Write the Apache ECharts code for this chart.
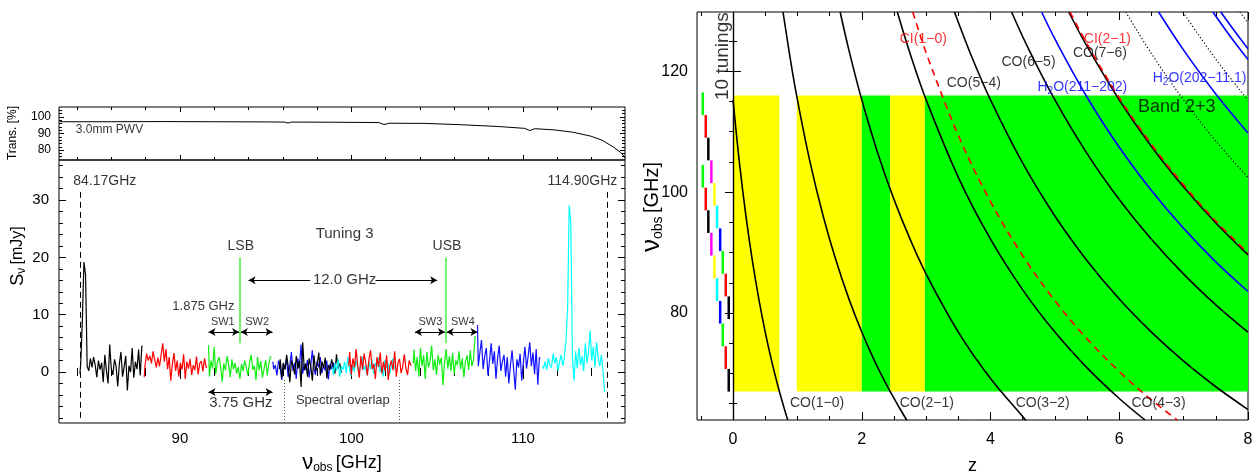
<!DOCTYPE html>
<html>
<head>
<meta charset="utf-8">
<title>Tuning 3 spectrum and Band 2+3 redshift coverage</title>
<script src="https://cdn.jsdelivr.net/npm/echarts@6/dist/echarts.min.js"></script>
<style>
  html, body { margin: 0; padding: 0; background: #fff; }
  #main { width: 1255px; height: 473px; }
</style>
</head>
<body>
<div id="main"></div>
<script>
// ---------------- data: left panel (spectrum) ----------------
const chanWidth = 0.09375; // GHz per channel (3.75 GHz / 40)
const segStart = [84.17, 87.92, 91.67, 95.42, 95.80, 98.90, 99.85, 103.60, 107.35, 111.15];
const segColour = ['k', 'r', 'g', 'b', 'k', 'c', 'r', 'g', 'b', 'c'];

const segA = [-0.3, 1.5, 9.0, 19.2, 17.0, 1.0, 0.2, 2.4, 0.8, 2.6, 1.2, -0.9, 2.0, 0.4, 1.6, -1.8, 3.0, 0.2, -2.0, 4.8,
  0.6, -0.5, 2.2, 1.0, -2.5, 1.4, 3.5, -0.8, 0.9, 2.8, -3.2, 1.1, 0.0, 4.2, -1.0, 1.8, 0.5, 3.9, -0.6, 4.5];
const segB = [-0.9, 1.2, 3.2, 2.0, 2.8, 1.5, 3.6, 2.2, 0.8, 2.5, 1.0, 3.0, 5.0, 1.8, 4.0, 0.5, 2.6, -1.5, 1.4, 3.3,
  0.2, 2.0, -0.8, 1.6, 0.4, 3.1, -1.2, 1.8, 0.6, 2.3, -0.5, 1.2, 0.3, 2.7, -0.4, 1.5, 1.9, 0.1, 2.4, 0.8];
const segC = [4.7, -0.8, 2.0, 0.6, 4.4, -0.4, 1.8, 2.6, 0.9, -1.7, 1.5, 0.3, 2.8, 1.2, -0.9, 2.2, 0.5, 1.6, -0.3, 0.9,
  -1.2, 1.4, 0.2, 2.0, 0.8, -0.6, 1.7, 3.0, 0.4, 1.1, -1.4, 2.6, 0.3, 1.9, -1.0, 0.5, 2.1, -0.6, 1.5, 2.7];
const segD = [1.8, 0.5, 1.2, -0.6, 2.0, 0.9, -1.4, 1.5, 0.6, 2.3, -0.8, 1.1, 3.5, 0.2, 1.6, -1.2, 2.4, 0.7, 4.8, -0.3,
  1.3, 0.4, 2.1, -1.0, 1.0, 3.8, 0.6, -0.5, 1.9, 0.8, 2.6, -0.2, 1.2, 0.3, 2.0, -1.3, 1.4, 0.5, 1.7, 0.2];
const segE = [0.5, 2.2, -1.0, 1.6, 0.4, 3.0, 0.9, -1.8, 2.0, 1.1, -0.4, 2.8, 0.6, 1.9, -2.6, 5.2, 0.3, 1.5, -0.8, 2.4,
  1.0, -1.5, 2.9, 0.2, 1.3, 3.4, -0.6, 1.8, 0.7, 2.5, -1.1, 1.2, 0.4, 2.2, 0.9, -0.3, 3.1, 0.6, 1.5, 0.0];
const segF = [0.8, -0.5, 1.5, 0.2, 2.3, -0.8, 1.0, 0.4, 1.8, -0.2, 2.6, 0.6, -0.7, 1.2, 0.1, 2.0, 0.9, -0.4, 1.4, 2.7,
  0.3, 1.1, -0.6, 1.9, 0.5, 2.2, -0.3, 1.6, 0.8, 2.5, 0.0, 1.3, -0.8, 2.1, 0.7, 1.5, -0.4, 1.0, 2.4, 0.6];
const segG = [1.0, 3.5, -0.5, 2.4, 0.8, 4.0, 1.2, -1.0, 2.8, 0.4, 3.2, 1.6, -0.6, 2.2, 3.8, 0.5, 1.4, -1.2, 2.6, 0.9,
  3.4, -0.3, 1.8, 0.2, 2.9, -1.4, 1.1, 2.0, 0.3, 3.6, -0.8, 1.5, 2.3, -0.2, 1.0, 3.1, 0.6, -0.5, 2.0, 1.2];
const segH = [1.5, 3.9, 0.2, 2.6, -0.8, 4.2, 1.0, 2.9, -1.2, 3.5, 0.8, 1.9, 4.6, 0.3, 2.2, -0.5, 3.0, 1.3, 2.5, -2.3,
  1.6, 4.0, 0.6, 2.8, 0.2, 3.3, -0.4, 2.0, 1.2, 3.6, 0.5, 2.4, -0.9, 1.8, 2.9, 0.4, 3.8, 1.0, 2.2, 6.2];
const segI = [8.2, 1.0, 3.4, 5.6, 0.5, 2.8, 4.2, -0.6, 2.0, 5.0, 1.4, 3.6, -1.2, 2.4, 4.6, 0.2, 1.8, 3.0, -0.8, 2.6,
  -2.0, 1.2, 3.8, 0.4, -3.1, 2.2, 0.8, 3.2, -1.5, 1.6, 4.4, 0.6, 2.8, 5.2, 1.0, 3.4, -0.4, 4.0, -2.2, 2.5];
const segJ = [1.0, 0.6, 1.8, 0.4, 2.4, 1.2, 0.8, 3.2, 1.5, 2.6, 0.2, 1.8, 3.0, 1.1, 2.5, 5.6, 11.0, 29.1, 26.0, 2.5,
  -1.5, 3.6, 0.6, 4.2, 1.2, 2.8, 0.2, 5.0, 1.6, 3.4, 7.3, 2.0, 4.4, 0.8, 5.2, 2.6, 1.0, 3.0, 0.4, -3.4];
const segValues = [segA, segB, segC, segD, segE, segF, segG, segH, segI, segJ];

// atmospheric transmission, 3.0mm PWV  [GHz, %]
const transPts = [[83, 97.1], [86, 97.1], [89, 97.2], [92, 97.1], [95, 97.0], [96.1, 96.9], [96.3, 96.3], [96.5, 96.9],
  [99, 96.8], [101.6, 96.6], [101.9, 95.4], [102.2, 96.2], [104.3, 96.1], [106.4, 95.3], [108.6, 94.2], [110.1, 93.1],
  [110.4, 91.8], [110.7, 92.9], [111.8, 92.2], [112.9, 90.8], [113.96, 88.4], [114.6, 86.0], [115.25, 82.0],
  [115.7, 78.5], [116, 75.0]];

// tick positions
const transXMajor = [90, 100, 110];
const transXMinor = [84, 86, 88, 92, 94, 96, 98, 102, 104, 106, 108, 112, 114, 116];
const transYMajor = [80, 90, 100];
const transYMinor = [76, 78, 82, 84, 86, 88, 92, 94, 96, 98, 102, 104];
const specYMajor = [0, 10, 20, 30];
const specYMinor = [-8, -6, -4, -2, 2, 4, 6, 8, 12, 14, 16, 18, 22, 24, 26, 28, 32, 34, 36];

// ---------------- data: right panel (redshift coverage) ----------------
const bandLow = 67, bandHigh = 116;
const bandZ = [[0, 0.72], [0.99, 2.0], [2.0, 2.44], [2.44, 2.98], [2.98, 8]];
const bandNLines = [1, 1, 2, 1, 2];

const tuningZ = [-0.47, -0.424, -0.384, -0.337, -0.29, -0.248, -0.20, -0.16, -0.113, -0.067];
const lsbTop = [104.5, 100.75, 97.0, 93.25, 89.5, 85.75, 82.0, 78.25, 74.5, 70.75];
const usbTop = [116.5, 112.75, 109.0, 105.25, 101.5, 97.75, 94.0, 90.25, 86.5, 82.75];
const swSpan = 3.75;

const co10 = [[0, 115.27], [0.1, 104.79], [0.2, 96.06], [0.3, 88.67], [0.4, 82.34], [0.5, 76.85], [0.6, 72.04], [0.7, 67.81], [0.8, 64.04], [0.85, 62.3]];
const co21 = [[0.776, 129.8], [0.9, 121.34], [1.0, 115.27], [1.2, 104.79], [1.4, 96.06], [1.6, 88.67], [1.8, 82.34], [2.0, 76.85], [2.2, 72.04], [2.4, 67.81], [2.6, 64.04], [2.7, 62.26]];
const co32 = [[1.664, 129.8], [1.8, 123.5], [2.0, 115.27], [2.25, 106.4], [2.5, 98.80], [2.75, 92.22], [3.0, 86.45], [3.5, 76.85], [4.0, 69.16], [4.5, 62.87], [4.55, 62.2]];
const co43 = [[2.552, 129.8], [2.75, 122.94], [3.0, 115.26], [3.5, 102.45], [4.0, 92.21], [4.5, 83.83], [5.0, 76.84], [5.5, 70.93], [6.0, 65.86], [6.4, 62.3]];
const co54 = [[3.44, 129.8], [3.7, 122.61], [4.0, 115.25], [4.5, 104.78], [5.0, 96.05], [5.5, 88.66], [6.0, 82.32], [6.5, 76.84], [7.0, 72.03], [7.5, 67.80], [8.0, 64.03]];
const co65 = [[4.327, 129.8], [4.6, 123.48], [5.0, 115.25], [5.5, 106.38], [6.0, 98.78], [6.5, 92.20], [7.0, 86.43], [7.5, 81.35], [8.0, 76.83]];
const co76 = [[5.215, 129.8], [5.5, 124.1], [6.0, 115.24], [6.5, 107.55], [7.0, 100.83], [7.5, 94.90], [8.0, 89.63]];
const ci10 = [[2.792, 129.8], [3.0, 123.04], [3.5, 109.37], [4.0, 98.43], [4.5, 89.48], [5.0, 82.03], [5.5, 75.72], [6.0, 70.31], [6.5, 65.62], [6.9, 62.3]];
const ci21 = [[5.235, 129.8], [5.5, 124.51], [6.0, 115.62], [6.5, 107.91], [7.0, 101.17], [7.5, 95.22], [8.0, 89.93]];
const h2o211 = [[4.794, 129.8], [5.0, 125.34], [5.5, 115.70], [6.0, 107.43], [6.5, 100.27], [7.0, 94.00], [7.5, 88.47], [8.0, 83.56]];
const h2o202 = [[6.611, 129.8], [7.0, 123.49], [7.5, 116.23], [8.0, 109.77]];
const h2o312 = [[7.454, 129.8], [7.7, 126.13], [8.0, 121.93]];
const h2o111 = [[7.577, 129.8], [7.8, 126.52], [8.0, 123.70]];
const co87 = [[6.102, 129.8], [6.5, 122.91], [7.0, 115.23], [7.5, 108.45], [8.0, 102.42]];
const co98 = [[6.988, 129.8], [7.5, 121.99], [8.0, 115.21]];
const co109 = [[7.875, 129.8], [8.0, 128.0]];

const zMajor = [0, 2, 4, 6, 8];
const zMinor = [-0.5, 0.5, 1, 1.5, 2.5, 3, 3.5, 4.5, 5, 5.5, 6.5, 7, 7.5];
const nuMajor = [80, 100, 120];
const nuMinor = [65, 70, 75, 85, 90, 95, 105, 110, 115, 125];

// ---------------- styling ----------------
const FONT = 'Liberation Sans, Arial, sans-serif';
const colourOf = { k: '#000000', r: '#ff0000', g: '#11ee11', b: '#1010ff', c: '#00ffff' };
const tuningColours = ['#00ff00', '#ff0000', '#000000', '#ff00ff', '#ffff00', '#00ffff', '#0000ff', '#00ff00', '#ff0000', '#000000'];

const specX = [82.95, 115.95];
const transY = [74, 106];
const specY = [-8.9, 37];
const zRange = [-0.56, 8];
const nuRange = [62.3, 129.8];

const grids = [
  { left: 59, width: 566, top: 107, height: 53 },   // 0 transmission
  { left: 59, width: 566, top: 160, height: 263 },  // 1 spectrum
  { left: 697, width: 551, top: 12, height: 408 }   // 2 redshift
];

// each panel gets a main grid (box, major ticks, labels) and an overlaid one for minor ticks
const gridOpt = [];
grids.forEach(g => {
  gridOpt.push(Object.assign({ show: true, borderColor: '#000', borderWidth: 1, backgroundColor: 'transparent', containLabel: false, outerBoundsMode: 'none' }, g));
  gridOpt.push(Object.assign({ show: false, containLabel: false, outerBoundsMode: 'none' }, g));
});

function tickAxis(grid, pos, range, ticks, len, label) {
  return {
    type: 'value', gridIndex: grid, position: pos, min: range[0], max: range[1],
    axisLine: { show: false }, splitLine: { show: false },
    axisTick: { show: true, inside: true, length: len, customValues: ticks, lineStyle: { color: '#000', width: 1 } },
    axisLabel: label || { show: false },
    silent: true
  };
}
function tickLabel(values, size, margin) {
  return { show: true, customValues: values, color: '#000', fontFamily: FONT, fontSize: size, margin: margin };
}

const xAxes = [
  tickAxis(0, 'bottom', specX, transXMajor, 5), tickAxis(0, 'top', specX, transXMajor, 5),
  tickAxis(1, 'bottom', specX, transXMinor, 3), tickAxis(1, 'top', specX, transXMinor, 3),
  tickAxis(2, 'bottom', specX, transXMajor, 7, tickLabel(transXMajor, 15, 8)), tickAxis(2, 'top', specX, transXMajor, 7),
  tickAxis(3, 'bottom', specX, transXMinor, 4), tickAxis(3, 'top', specX, transXMinor, 4),
  tickAxis(4, 'bottom', zRange, zMajor, 8, tickLabel(zMajor, 16, 12)), tickAxis(4, 'top', zRange, zMajor, 8),
  tickAxis(5, 'bottom', zRange, zMinor, 4), tickAxis(5, 'top', zRange, zMinor, 4)
];
xAxes[4].name = '{nu|ν}{sub|obs} {u|[GHz]}';
xAxes[4].nameLocation = 'middle';
xAxes[4].nameGap = 29;
xAxes[4].nameTextStyle = {
  fontFamily: FONT, color: '#000',
  rich: {
    nu: { fontFamily: FONT, fontSize: 22, color: '#000' },
    sub: { fontFamily: FONT, fontSize: 12, color: '#000', padding: [10, 0, 0, 0] },
    u: { fontFamily: FONT, fontSize: 18, color: '#000' }
  }
};
xAxes[8].name = 'z';
xAxes[8].nameLocation = 'middle';
xAxes[8].nameGap = 37;
xAxes[8].nameTextStyle = { fontFamily: FONT, fontSize: 18, color: '#000' };

const yAxes = [
  tickAxis(0, 'left', transY, transYMajor, 5, tickLabel(transYMajor, 12, 8)), tickAxis(0, 'right', transY, transYMajor, 5),
  tickAxis(1, 'left', transY, transYMinor, 3), tickAxis(1, 'right', transY, transYMinor, 3),
  tickAxis(2, 'left', specY, specYMajor, 7, tickLabel(specYMajor, 15, 10)), tickAxis(2, 'right', specY, specYMajor, 7),
  tickAxis(3, 'left', specY, specYMinor, 4), tickAxis(3, 'right', specY, specYMinor, 4),
  tickAxis(4, 'left', nuRange, nuMajor, 8, tickLabel(nuMajor, 16, 9)), tickAxis(4, 'right', nuRange, nuMajor, 8),
  tickAxis(5, 'left', nuRange, nuMinor, 4), tickAxis(5, 'right', nuRange, nuMinor, 4)
];

// ---------------- series ----------------
const series = [];

series.push({
  type: 'line', xAxisIndex: 0, yAxisIndex: 0, data: transPts, showSymbol: false, symbol: 'none',
  lineStyle: { color: '#000', width: 1 }, silent: true
});

segValues.forEach((vals, s) => {
  series.push({
    type: 'line', xAxisIndex: 4, yAxisIndex: 4, step: 'middle', showSymbol: false, symbol: 'none', silent: true,
    data: vals.map((v, k) => [segStart[s] + k * chanWidth, v]),
    lineStyle: { color: colourOf[segColour[s]], width: 1.2 }
  });
});

function seg(x1, y1, x2, y2, style, s1, s2) {
  return [{ coord: [x1, y1], symbol: s1 || 'none', lineStyle: style }, { coord: [x2, y2], symbol: s2 || 'none' }];
}
const dashed = { color: '#000', width: 1, type: [6, 4] };
const dotted = { color: '#555', width: 1, type: [1, 2] };
const thin = { color: '#000', width: 1, type: 'solid' };
const sbLine = { color: '#44ee44', width: 1.5, type: 'solid' };

series.push({
  type: 'line', xAxisIndex: 4, yAxisIndex: 4, data: [], silent: true,
  markLine: {
    silent: true, animation: false, symbolSize: [6, 7], label: { show: false },
    data: [
      seg(84.17, -8, 84.17, 31.4, dashed),
      seg(114.90, -8, 114.90, 31.4, dashed),
      seg(96.1, -8.9, 96.1, -1.4, dotted),
      seg(102.8, -8.9, 102.8, -1.0, dotted),
      seg(93.5, 5, 93.5, 20, sbLine),
      seg(105.5, 5, 105.5, 20, sbLine),
      seg(97.6, 16, 94.0, 16, thin, 'none', 'arrow'),
      seg(101.4, 16, 105.0, 16, thin, 'none', 'arrow'),
      seg(91.67, 7, 93.45, 7, thin, 'arrow', 'arrow'),
      seg(93.55, 7, 95.4, 7, thin, 'arrow', 'arrow'),
      seg(103.7, 7, 105.45, 7, thin, 'arrow', 'arrow'),
      seg(105.55, 7, 107.35, 7, thin, 'arrow', 'arrow'),
      seg(91.67, -3.5, 95.4, -3.5, thin, 'arrow', 'arrow')
    ]
  }
});

const specNotes = [
  ['84.17GHz', 85.62, 33.3, 14], ['114.90GHz', 113.47, 33.3, 14], ['Tuning 3', 99.6, 24.1, 15],
  ['LSB', 93.55, 22.0, 14], ['USB', 105.57, 22.0, 14], ['12.0 GHz', 99.6, 16.0, 15],
  ['1.875 GHz', 91.37, 11.4, 13], ['SW1', 92.5, 8.8, 11], ['SW2', 94.5, 8.8, 11],
  ['SW3', 104.6, 8.8, 11], ['SW4', 106.5, 8.8, 11], ['3.75 GHz', 93.55, -5.4, 15],
  ['Spectral overlap', 99.5, -5.0, 13]
];
const transNotes = [['3.0mm PWV', 83.93, 92.1, 12]];

function textSeries(xi, notes, align, colours) {
  return {
    type: 'scatter', xAxisIndex: xi, yAxisIndex: xi, symbolSize: 0, silent: true, z: 10,
    data: notes.map((n, i) => ({
      value: [n[1], n[2]], name: n[0],
      label: { fontSize: n[3], color: colours ? colours[i] : '#000' }
    })),
    label: {
      show: true, position: [0, 0], align: align, verticalAlign: 'middle', fontFamily: FONT,
      formatter: p => p.name,
      rich: {
        s: { fontFamily: FONT, fontSize: 10, padding: [8, 0, 0, 0] }
      }
    }
  };
}
series.push(textSeries(4, specNotes, 'center'));
series.push(textSeries(0, transNotes, 'left'));

// right panel: coverage blocks
series.push({
  type: 'custom', xAxisIndex: 8, yAxisIndex: 8, silent: true, z: 1,
  data: bandZ.map((b, i) => [b[0], b[1], bandLow, bandHigh, bandNLines[i]]),
  renderItem: (params, api) => {
    const p0 = api.coord([api.value(0), api.value(3)]);
    const p1 = api.coord([api.value(1), api.value(2)]);
    return {
      type: 'rect',
      shape: { x: p0[0], y: p0[1], width: p1[0] - p0[0], height: p1[1] - p0[1] },
      style: { fill: api.value(4) > 1 ? '#00ff00' : '#ffff00' }
    };
  }
});

// tuning staircase (LSB and USB per tuning)
const tuningData = [];
tuningZ.forEach((z, i) => {
  tuningData.push([z, usbTop[i], usbTop[i] - swSpan, i]);
  tuningData.push([z, lsbTop[i], lsbTop[i] - swSpan, i]);
});
series.push({
  type: 'custom', xAxisIndex: 8, yAxisIndex: 8, silent: true, z: 4,
  data: tuningData,
  renderItem: (params, api) => {
    const a = api.coord([api.value(0), api.value(1)]);
    const b = api.coord([api.value(0), api.value(2)]);
    return {
      type: 'line', shape: { x1: a[0], y1: a[1], x2: b[0], y2: b[1] },
      style: { stroke: tuningColours[api.value(3)], lineWidth: 2.5 }
    };
  }
});

function curve(pts, colour, type, width) {
  return {
    type: 'line', xAxisIndex: 8, yAxisIndex: 8, data: pts, smooth: 0.35,
    showSymbol: false, symbol: 'none', silent: true, clip: true, z: 3,
    lineStyle: { color: colour, type: type, width: width }
  };
}
const zeroLine = curve(co10, '#000', 'solid', 1.6);
zeroLine.markLine = {
  silent: true, symbol: 'none', label: { show: false }, animation: false,
  lineStyle: { color: '#000', type: 'solid', width: 1.4 }, data: [{ xAxis: 0 }]
};
series.push(zeroLine);
[co21, co32, co43, co54, co65, co76].forEach(c => series.push(curve(c, '#000', 'solid', 1.6)));
[co87, co98, co109].forEach(c => series.push(curve(c, '#000', [1.2, 2.2], 1.2)));
[h2o211, h2o202, h2o312, h2o111].forEach(c => series.push(curve(c, '#0000ff', 'solid', 1.6)));
[ci10, ci21].forEach(c => series.push(curve(c, '#ff0000', [7, 5], 1.6)));

const zNotes = [
  ['CO(1−0)', 0.885, 65.1, 14], ['CO(2−1)', 2.59, 65.1, 14], ['CO(3−2)', 4.39, 65.1, 14], ['CO(4−3)', 6.19, 65.1, 14],
  ['CI(1−0)', 2.59, 125.3, 14], ['CO(5−4)', 3.32, 118.0, 14], ['CO(6−5)', 4.17, 121.5, 14], ['CO(7−6)', 5.28, 123.0, 14],
  ['CI(2−1)', 5.45, 125.3, 14], ['H{s|2}O(211−202)', 4.73, 117.4, 14], ['H{s|2}O(202−11.1)', 6.52, 118.8, 14],
  ['Band 2+3', 6.29, 114.0, 18]
];
const zNoteColours = ['#000', '#000', '#000', '#000', '#ff0000', '#000', '#000', '#000', '#ff0000', '#0000ff', '#0000ff', '#000'];
const zText = textSeries(8, zNotes, 'left', zNoteColours);
zText.label.rich.s.color = '#0000ff';
series.push(zText);

const tuningNote = textSeries(8, [['10 tunings', -0.16, 122.5, 19]], 'center');
tuningNote.label.rotate = 90;
series.push(tuningNote);

const chart = echarts.init(document.getElementById('main'));
chart.setOption({
  animation: false,
  backgroundColor: '#fff',
  grid: gridOpt,
  xAxis: xAxes,
  yAxis: yAxes,
  series: series,
  graphic: [
    {
      type: 'text', x: 13, y: 133, rotation: Math.PI / 2, silent: true,
      style: { text: 'Trans. [%]', fontFamily: FONT, fontSize: 12, fill: '#000', align: 'center', verticalAlign: 'middle' }
    },
    {
      type: 'text', x: 18, y: 256, rotation: Math.PI / 2, silent: true,
      style: {
        text: '{a|S}{b|ν} {c|[mJy]}', fill: '#000', align: 'center', verticalAlign: 'middle',
        rich: {
          a: { fontFamily: FONT, fontSize: 18, fill: '#000' },
          b: { fontFamily: FONT, fontSize: 12, fill: '#000', padding: [8, 0, 0, 0] },
          c: { fontFamily: FONT, fontSize: 16, fill: '#000' }
        }
      }
    },
    {
      type: 'text', x: 652, y: 207, rotation: Math.PI / 2, silent: true,
      style: {
        text: '{a|ν}{b|obs} {c|[GHz]}', fill: '#000', align: 'center', verticalAlign: 'middle',
        rich: {
          a: { fontFamily: FONT, fontSize: 26, fill: '#000' },
          b: { fontFamily: FONT, fontSize: 14, fill: '#000', padding: [12, 0, 0, 0] },
          c: { fontFamily: FONT, fontSize: 20, fill: '#000' }
        }
      }
    }
  ]
});
</script>
</body>
</html>
